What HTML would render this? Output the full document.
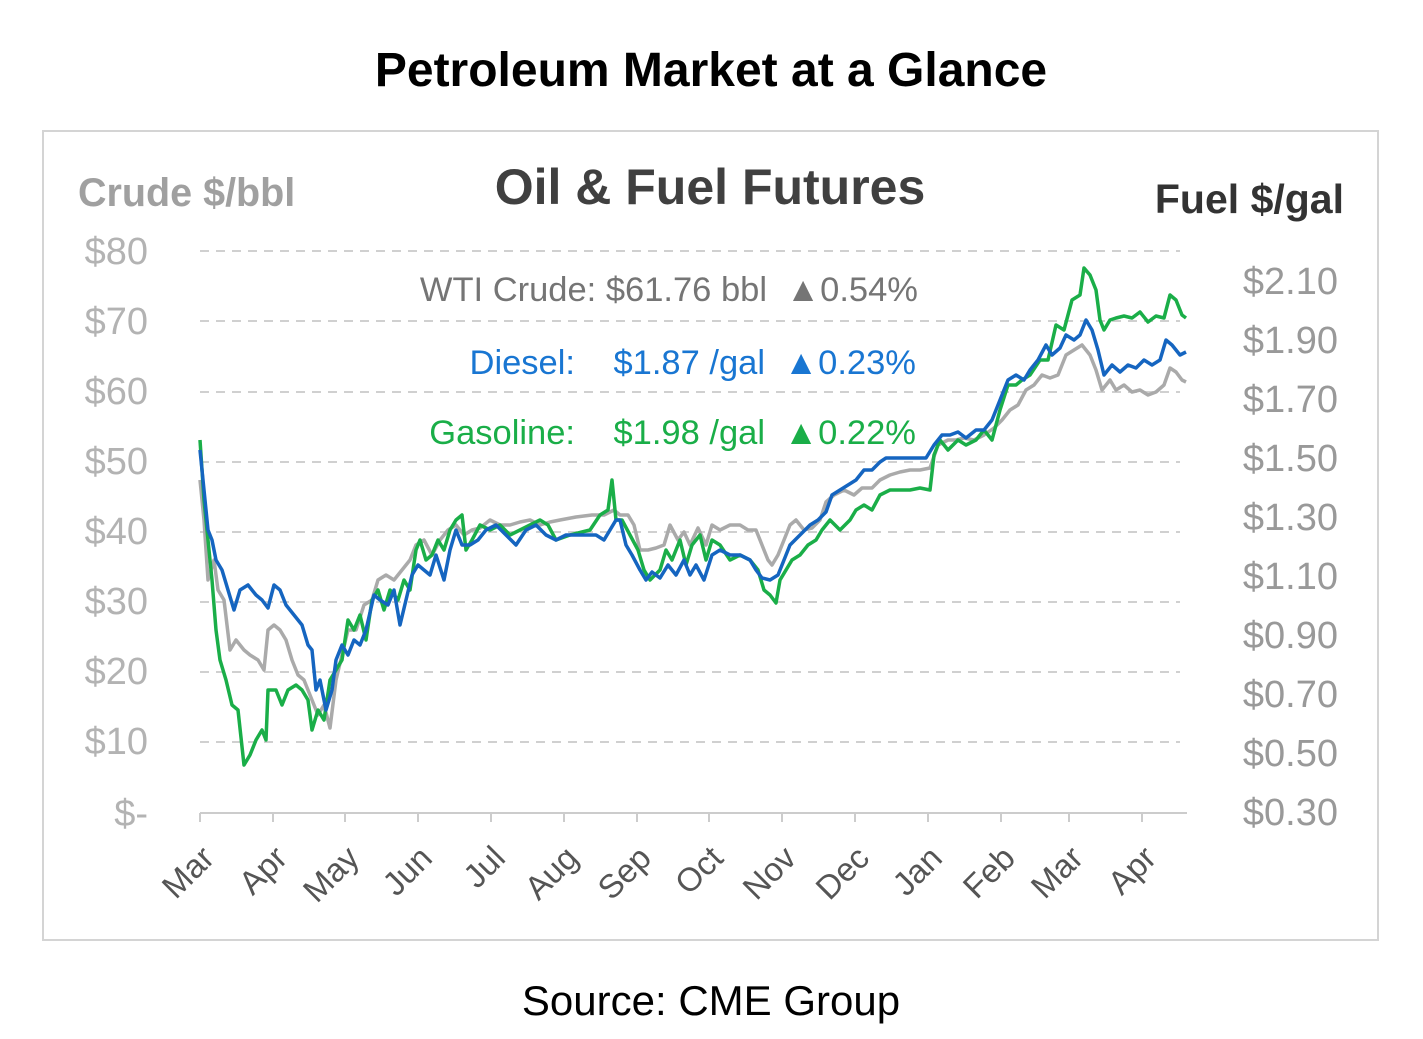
<!DOCTYPE html>
<html><head><meta charset="utf-8"><style>
html,body{margin:0;padding:0;background:#fff;}
svg{display:block;}
</style></head><body>
<svg width="1423" height="1039" viewBox="0 0 1423 1039" xmlns="http://www.w3.org/2000/svg" font-family="Liberation Sans, sans-serif">
<rect width="1423" height="1039" fill="#fff"/>
<text x="711" y="86" text-anchor="middle" font-size="48" font-weight="bold" fill="#000">Petroleum Market at a Glance</text>
<rect x="43" y="131" width="1335" height="809" fill="#fff" stroke="#d4d4d4" stroke-width="2"/>
<text x="78" y="206" font-size="39.5" font-weight="bold" fill="#a0a0a0">Crude $/bbl</text>
<text x="710" y="204" text-anchor="middle" font-size="50" font-weight="bold" fill="#404040">Oil &amp; Fuel Futures</text>
<text x="1344" y="213" text-anchor="end" font-size="41" font-weight="bold" fill="#333">Fuel $/gal</text>
<g stroke="#d0d0d0" stroke-width="2" stroke-dasharray="9,7">
<line x1="200" x2="1180" y1="251" y2="251"/><line x1="200" x2="1180" y1="321" y2="321"/>
<line x1="200" x2="1180" y1="392" y2="392"/><line x1="200" x2="1180" y1="462" y2="462"/>
<line x1="200" x2="1180" y1="532" y2="532"/><line x1="200" x2="1180" y1="602" y2="602"/>
<line x1="200" x2="1180" y1="672" y2="672"/><line x1="200" x2="1180" y1="742" y2="742"/>
</g>
<g font-size="38" fill="#b3b3b3" text-anchor="end">
<text x="148" y="264">$80</text><text x="148" y="334">$70</text><text x="148" y="404">$60</text>
<text x="148" y="474">$50</text><text x="148" y="544">$40</text><text x="148" y="614">$30</text>
<text x="148" y="684">$20</text><text x="148" y="754">$10</text><text x="148" y="826">$-</text>
</g>
<g font-size="38" fill="#999" text-anchor="end">
<text x="1338" y="294">$2.10</text><text x="1338" y="353">$1.90</text><text x="1338" y="412">$1.70</text>
<text x="1338" y="471">$1.50</text><text x="1338" y="530">$1.30</text><text x="1338" y="589">$1.10</text>
<text x="1338" y="648">$0.90</text><text x="1338" y="707">$0.70</text><text x="1338" y="766">$0.50</text>
<text x="1338" y="825">$0.30</text>
</g>
<line x1="200" x2="1187" y1="813" y2="813" stroke="#ccc" stroke-width="2"/>
<g stroke="#ccc" stroke-width="2">
<line x1="200" x2="200" y1="813" y2="822"/><line x1="273" x2="273" y1="813" y2="822"/><line x1="345" x2="345" y1="813" y2="822"/><line x1="418" x2="418" y1="813" y2="822"/><line x1="491" x2="491" y1="813" y2="822"/><line x1="564" x2="564" y1="813" y2="822"/><line x1="637" x2="637" y1="813" y2="822"/><line x1="709" x2="709" y1="813" y2="822"/><line x1="782" x2="782" y1="813" y2="822"/><line x1="855" x2="855" y1="813" y2="822"/><line x1="928" x2="928" y1="813" y2="822"/><line x1="1001" x2="1001" y1="813" y2="822"/><line x1="1069" x2="1069" y1="813" y2="822"/><line x1="1142" x2="1142" y1="813" y2="822"/>
</g>
<g font-size="33" fill="#555" text-anchor="end">
<text transform="translate(216,860) rotate(-45)">Mar</text>
<text transform="translate(289,860) rotate(-45)">Apr</text>
<text transform="translate(361,860) rotate(-45)">May</text>
<text transform="translate(434,860) rotate(-45)">Jun</text>
<text transform="translate(507,860) rotate(-45)">Jul</text>
<text transform="translate(580,860) rotate(-45)">Aug</text>
<text transform="translate(653,860) rotate(-45)">Sep</text>
<text transform="translate(725,860) rotate(-45)">Oct</text>
<text transform="translate(798,860) rotate(-45)">Nov</text>
<text transform="translate(871,860) rotate(-45)">Dec</text>
<text transform="translate(944,860) rotate(-45)">Jan</text>
<text transform="translate(1017,860) rotate(-45)">Feb</text>
<text transform="translate(1085,860) rotate(-45)">Mar</text>
<text transform="translate(1158,860) rotate(-45)">Apr</text>
</g>
<g fill="none" stroke-width="3.5" stroke-linejoin="round">
<polyline stroke="#aaaaaa" points="200,480 204,520 208,580 214,560 218,590 224,600 230,650 236,640 244,650 250,655 258,660 264,670 268,630 274,625 280,630 286,640 292,660 298,675 304,680 312,700 318,715 324,705 330,728 336,680 342,655 348,630 356,630 364,605 372,600 378,580 386,575 394,580 402,570 410,560 416,545 424,540 432,555 440,540 448,530 456,525 464,535 472,530 480,528 490,520 500,525 510,525 520,522 530,520 540,525 550,522 560,520 576,517 592,515 604,515 614,510 620,515 628,515 634,525 640,550 648,550 656,548 664,545 670,525 678,540 684,532 690,545 698,528 706,545 712,525 720,530 730,525 740,525 748,530 756,530 762,545 768,560 772,565 778,555 784,540 790,525 796,520 804,530 812,528 820,520 826,502 834,495 844,490 854,495 862,488 872,488 880,480 890,475 900,472 910,470 920,470 930,468 938,445 948,440 956,440 964,438 974,440 984,435 994,428 1002,420 1010,410 1018,405 1026,390 1034,385 1042,375 1050,378 1058,375 1066,355 1074,350 1082,345 1090,355 1096,370 1102,390 1110,380 1116,390 1124,385 1132,392 1140,390 1148,395 1156,392 1164,385 1170,368 1176,372 1182,380 1186,382"/>
<polyline stroke="#1aae48" points="200,440 204,500 208,540 212,580 216,630 220,660 226,680 232,705 238,710 244,765 250,755 256,740 262,730 266,740 268,690 276,690 282,705 288,690 296,685 302,690 308,700 312,730 318,710 324,720 330,680 336,670 342,660 348,620 354,630 360,615 366,640 372,600 378,590 384,610 390,590 398,600 404,580 410,590 416,550 420,540 426,560 432,555 438,540 444,550 450,530 456,520 462,515 466,550 472,540 480,525 490,530 500,525 510,535 520,530 530,525 540,520 548,525 556,540 570,535 590,530 600,515 608,510 612,480 616,520 622,520 630,535 638,550 644,570 650,580 660,570 666,550 672,560 680,540 686,565 692,545 700,535 706,560 712,540 720,545 730,560 740,555 750,560 758,570 764,590 770,595 776,603 780,580 786,570 792,560 800,555 808,545 816,540 822,530 830,520 840,530 850,520 856,510 864,505 872,510 880,495 890,490 900,490 910,490 920,488 930,490 934,455 940,440 948,450 958,440 966,445 976,440 984,430 992,440 1000,410 1008,385 1016,385 1022,380 1030,375 1040,360 1048,360 1056,325 1064,330 1072,300 1080,295 1084,268 1090,275 1096,290 1100,320 1104,330 1110,320 1116,318 1124,316 1132,318 1140,312 1148,322 1156,316 1164,318 1170,295 1176,300 1182,315 1186,318"/>
<polyline stroke="#1565c0" points="200,450 204,490 208,530 212,540 216,560 222,570 228,590 234,610 240,590 248,585 256,595 262,600 268,608 274,585 280,590 286,605 294,615 302,625 308,645 312,650 316,690 320,680 326,710 332,690 336,660 342,645 348,655 354,640 360,645 366,630 374,595 380,600 388,605 394,590 400,625 406,600 412,575 418,565 424,570 430,575 436,555 444,580 450,550 456,530 462,545 470,545 478,540 486,530 496,525 506,535 516,545 526,530 536,525 546,535 556,540 566,535 580,535 596,535 604,540 610,530 616,520 620,520 626,545 632,555 640,570 646,580 652,572 660,578 668,565 676,575 684,560 690,575 696,565 704,580 712,555 720,550 730,555 740,555 750,560 756,570 762,578 770,580 778,575 784,560 790,545 800,535 810,525 818,520 826,512 832,495 840,490 848,485 856,480 864,470 872,470 880,462 886,458 896,458 906,458 916,458 926,458 934,445 942,435 950,435 958,432 966,438 976,430 984,430 992,420 1000,400 1008,380 1016,375 1024,380 1030,370 1038,360 1046,345 1052,355 1060,348 1066,335 1074,340 1080,335 1086,320 1092,330 1098,350 1104,375 1112,365 1120,372 1128,365 1136,368 1144,360 1152,365 1160,360 1166,340 1172,345 1180,355 1186,352"/>
</g>
<g font-size="34.5">
<text x="767" y="301" text-anchor="end" fill="#757575">WTI Crude: $61.76 bbl</text>
<text x="918" y="301" text-anchor="end" fill="#757575">▲0.54%</text>
<text x="575" y="374" text-anchor="end" fill="#1976d2">Diesel:</text>
<text x="765" y="374" text-anchor="end" fill="#1976d2">$1.87 /gal</text>
<text x="916" y="374" text-anchor="end" fill="#1976d2">▲0.23%</text>
<text x="575" y="444" text-anchor="end" fill="#1aae48">Gasoline:</text>
<text x="765" y="444" text-anchor="end" fill="#1aae48">$1.98 /gal</text>
<text x="916" y="444" text-anchor="end" fill="#1aae48">▲0.22%</text>
</g>
<text x="711" y="1015" text-anchor="middle" font-size="42" fill="#000">Source: CME Group</text>
</svg>
</body></html>
